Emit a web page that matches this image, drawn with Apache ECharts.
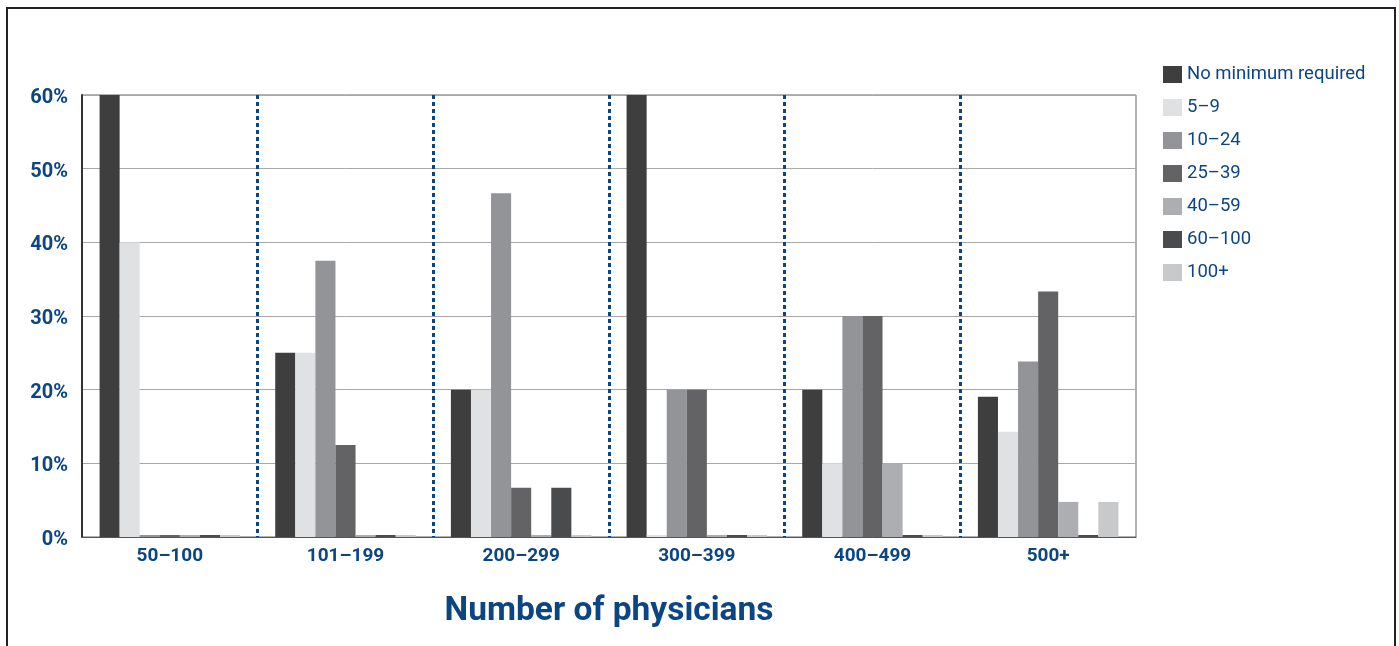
<!DOCTYPE html>
<html>
<head>
<meta charset="utf-8">
<script src="https://cdn.jsdelivr.net/npm/echarts@6/dist/echarts.min.js"></script>
<style>
html,body{margin:0;padding:0;background:#fff;}
#c{width:1399px;height:646px;}
</style>
</head>
<body>
<div id="c"></div>
<script>
const categories = ['50–100', '101–199', '200–299', '300–399', '400–499', '500+'];
const seriesNames = ['No minimum required', '5–9', '10–24', '25–39', '40–59', '60–100', '100+'];
const noMinimum = [60, 25, 20, 60, 20, 19.05];
const s5to9 = [40, 25, 20, 0, 10, 14.29];
const s10to24 = [0, 37.5, 46.67, 20, 30, 23.81];
const s25to39 = [0, 12.5, 6.67, 20, 30, 33.33];
const s40to59 = [0, 0, 0, 0, 10, 4.76];
const s60to100 = [0, 0, 6.67, 0, 0, 0];
const s100plus = [0, 0, 0, 0, 0, 4.76];
const yTicks = [0, 10, 20, 30, 40, 50, 60];

const seriesData = [noMinimum, s5to9, s10to24, s25to39, s40to59, s60to100, s100plus];
const colors = ['#3e3e3f', '#e0e1e3', '#939498', '#636365', '#adaeb1', '#4a4b4d', '#c8c9cb'];
const blue = '#0b4683';
const font = 'Roboto, "Open Sans", sans-serif';

const chart = echarts.init(document.getElementById('c'), null, {renderer: 'canvas'});
chart.setOption({
  animation: false,
  backgroundColor: '#fff',
  color: colors,
  graphic: [{
    type: 'rect',
    shape: {x: 7, y: 8, width: 1388, height: 660},
    style: {fill: 'none', stroke: '#222', lineWidth: 2},
    silent: true,
    z: 100
  }],
  legend: {
    orient: 'vertical',
    left: 1158,
    top: 60,
    itemWidth: 19,
    itemHeight: 17,
    itemGap: 14,
    icon: 'rect',
    data: seriesNames,
    textStyle: {color: blue, fontSize: 18.5, fontFamily: font, padding: [0, 0, 0, 0]}
  },
  grid: {
    left: 82, right: 263, top: 95, bottom: 109,
    show: true, borderColor: '#666', borderWidth: 1, backgroundColor: 'transparent'
  },
  xAxis: {
    type: 'category',
    data: categories,
    boundaryGap: true,
    axisLine: {show: true, lineStyle: {color: '#555', width: 1}},
    axisTick: {show: false},
    axisLabel: {color: blue, fontSize: 19, fontWeight: 'bold', fontFamily: font, margin: 10},
    splitLine: {
      show: true, showMinLine: false, showMaxLine: false,
      lineStyle: {color: blue, width: 3, type: [4, 3]}
    },
    name: 'Number of physicians',
    nameLocation: 'middle',
    nameGap: 58,
    nameTextStyle: {color: blue, fontSize: 33.5, fontWeight: 'bold', fontFamily: font}
  },
  yAxis: {
    type: 'value',
    min: 0, max: 60, interval: 10,
    axisLine: {show: true, lineStyle: {color: '#333', width: 2}},
    axisTick: {show: false},
    axisLabel: {
      color: blue, fontSize: 20, fontWeight: 'bold', fontFamily: font, margin: 14,
      verticalAlign: 'top', lineHeight: 6,
      formatter: function (v) { return yTicks.indexOf(v) >= 0 ? v + '%' : ''; }
    },
    splitLine: {show: true, lineStyle: {color: '#a8a8a8', width: 1}}
  },
  series: seriesNames.map(function (n, i) {
    return {
      name: n,
      type: 'bar',
      data: seriesData[i],
      barGap: 0,
      barCategoryGap: '20%',
      barMinHeight: 2,
      itemStyle: {color: colors[i]},
      z: 3
    };
  })
});
</script>
</body>
</html>
